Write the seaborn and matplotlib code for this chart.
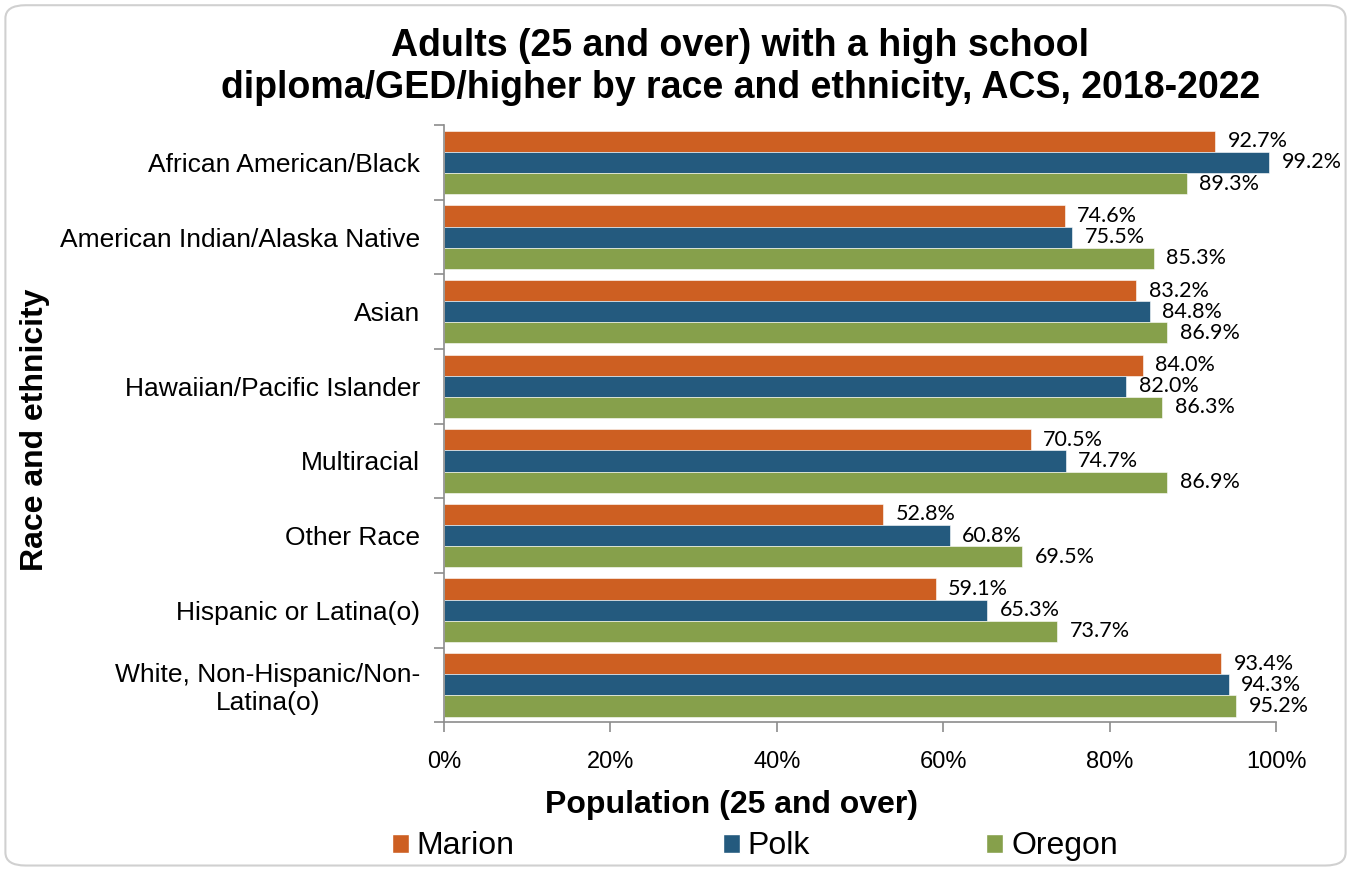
import pandas as pd
import numpy as np
import matplotlib.pyplot as plt
import seaborn as sns
from matplotlib.patches import FancyBboxPatch, Patch

# data
categories = ["African American/Black", "American Indian/Alaska Native", "Asian",
              "Hawaiian/Pacific Islander", "Multiracial", "Other Race",
              "Hispanic or Latina(o)", "White, Non-Hispanic/Non-\nLatina(o)"]
series = ["Marion", "Polk", "Oregon"]
marion = [92.7, 74.6, 83.2, 84.0, 70.5, 52.8, 59.1, 93.4]
polk = [99.2, 75.5, 84.8, 82.0, 74.7, 60.8, 65.3, 94.3]
oregon = [89.3, 85.3, 86.9, 86.3, 86.9, 69.5, 73.7, 95.2]
colors = ["#CD5F22", "#245A7E", "#86A04B"]
x_ticks = [0, 20, 40, 60, 80, 100]

df = pd.DataFrame({
    "Race": categories * 3,
    "County": [s for s in series for _ in categories],
    "Pct": marion + polk + oregon,
})

sns.set_style("white")
plt.rcParams["font.family"] = ["Liberation Sans", "DejaVu Sans"]
plt.rcParams.update({"text.color": "black", "axes.labelcolor": "black",
                     "xtick.color": "black", "ytick.color": "black"})

fig = plt.figure(figsize=(13.51, 8.69), dpi=100)
ax = fig.add_axes([0.3286, 0.169, 0.6159, 0.687])

sns.barplot(data=df, y="Race", x="Pct", hue="County", order=categories,
            hue_order=series, palette=colors, width=0.85, gap=0,
            orient="h", ax=ax, legend=False, saturation=1,
            edgecolor="white", linewidth=0.4)

for cont in ax.containers:
    ax.bar_label(cont, fmt="{:.1f}%", padding=9, fontsize=15.5,
                 family=["Lato", "DejaVu Sans"], color="black")

ax.set_xlim(0, 100)
ax.set_ylim(len(categories) - 0.5, -0.5)
ax.set_xticks(x_ticks)
ax.set_xticklabels([f"{t}%" for t in x_ticks], fontsize=17)
ax.set_yticks(range(len(categories)))
ax.set_yticklabels(categories, fontsize=19)
ax.set_yticks(np.arange(-0.5, len(categories)), minor=True)
ax.tick_params(axis="y", which="major", left=False, length=0, pad=17)
ax.tick_params(axis="y", which="minor", left=True, length=7, color="#8c8c8c",
               width=1.2, direction="out")
ax.tick_params(axis="x", bottom=True, length=7, color="#8c8c8c", width=1.2,
               direction="out", pad=14)
for lab in ax.get_yticklabels():
    lab.set_horizontalalignment("right")
    lab.set_multialignment("center")

sns.despine(ax=ax, top=True, right=True)
for side in ["left", "bottom"]:
    ax.spines[side].set_color("#8c8c8c")
    ax.spines[side].set_linewidth(1.2)

ax.set_xlabel("Population (25 and over)", fontsize=23, fontweight="bold")
ax.xaxis.set_label_coords(0.346, -0.114)
ax.set_ylabel("")
fig.text(0.026, 0.505, "Race and ethnicity", rotation=90, fontsize=23,
         fontweight="bold", ha="center", va="center")

fig.text(0.548, 0.923, "Adults (25 and over) with a high school\n"
         "diploma/GED/higher by race and ethnicity, ACS, 2018-2022",
         fontsize=27, fontweight="bold", ha="center", va="center", linespacing=1.2)

# legend entries are spaced unevenly in the original, so one legend per entry
for c, s, xpos in zip(colors, series, [0.290, 0.535, 0.730]):
    fig.legend(handles=[Patch(facecolor=c, label=s)], loc="center left",
               bbox_to_anchor=(xpos, 0.026), frameon=False, fontsize=23,
               handlelength=0.53, handleheight=0.53, handletextpad=0.25,
               borderpad=0, borderaxespad=0)

border = FancyBboxPatch((0.004, 0.004), 0.992, 0.99, boxstyle="round,pad=0,rounding_size=0.015",
                        transform=fig.transFigure, fill=False, edgecolor="#d0d0d0", linewidth=1.5)
fig.patches.append(border)

plt.savefig("out.png", dpi=100)
